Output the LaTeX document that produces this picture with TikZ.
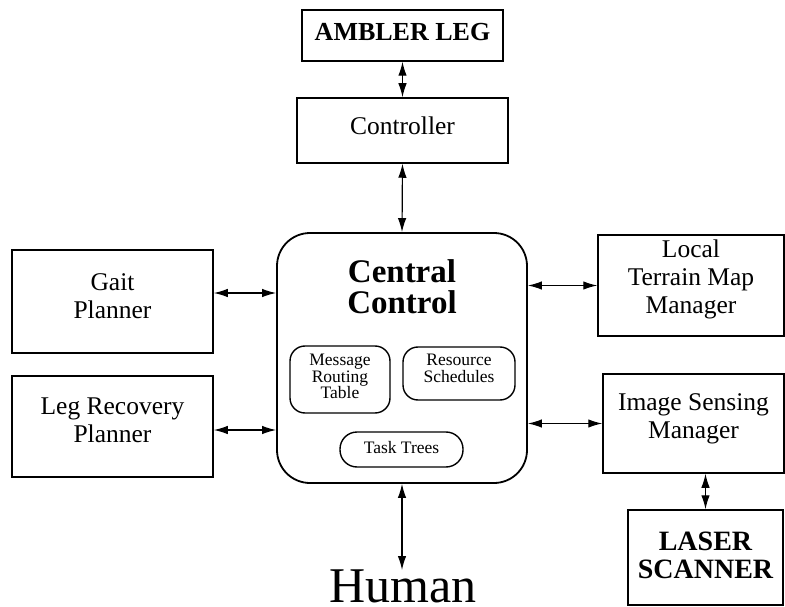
\documentclass[tikz,border=0pt]{standalone}
\usepackage{fontspec}
\setmainfont{Liberation Serif}
\usetikzlibrary{arrows.meta}
\begin{document}
\begin{tikzpicture}[x=1pt,y=-1pt,
  box/.style={draw, line width=1.5pt, inner sep=0pt},
  txt/.style={inner sep=0pt, align=center, font=\fontsize{25.5}{28}\selectfont},
  boldtxt/.style={txt, font=\bfseries\fontsize{26}{28}\selectfont},
  inner/.style={draw, line width=1.4pt, inner sep=0pt, align=center,
    font=\fontsize{17.5}{16.5}\selectfont},
  tip/.style={Latex[length=14pt,width=8.5pt]},
  arr/.style={{Latex[length=14pt,width=8.5pt]}-{Latex[length=14pt,width=8.5pt]}, line width=1.2pt}]
\useasboundingbox (0,0) rectangle (785,607);

% top chain
\node[box, minimum width=201pt, minimum height=51pt] (amb) at (402.5,35.5) {};
\node[boldtxt] (ambT) at ([yshift=3pt]amb.center) {AMBLER LEG};
\node[box, minimum width=211pt, minimum height=65pt] (ctrl) at (402.5,130.5) {};
\node[txt] (ctrlT) at ([yshift=5pt]ctrl.center) {Controller};

% central control block
\node[draw, line width=1.8pt, rounded corners=33pt, minimum width=250pt, minimum height=250pt, inner sep=0pt] (central) at (402,358) {};
\node[anchor=base, font=\bfseries\fontsize{33}{33}\selectfont, inner sep=0pt] (title1) at (402,282) {Central};
\node[anchor=base, font=\bfseries\fontsize{33}{33}\selectfont, inner sep=0pt] (title2) at (402,313) {Control};
\node[inner, rounded corners=15pt, minimum width=100pt, minimum height=67pt] (msg) at (340,379.5) {};
\node[inner, draw=none] (msgT) at ([yshift=3pt]msg.center) {Message\\Routing\\Table};
\node[inner, rounded corners=15pt, minimum width=112pt, minimum height=53pt] (res) at (459,373.5) {};
\node[inner, draw=none] (resT) at ([yshift=5pt]res.center) {Resource\\Schedules};
\node[inner, rounded corners=17pt, minimum width=123pt, minimum height=35pt] (task) at (401.5,449.5) {};
\node[inner, draw=none] (taskT) at ([yshift=2pt]task.center) {Task Trees};

% left planners
\node[box, minimum width=201pt, minimum height=103pt] (gait) at (112.5,301.5) {};
\node[txt] (gaitT) at ([yshift=5pt]gait.center) {Gait\\Planner};
\node[box, minimum width=201pt, minimum height=101pt] (leg) at (112.5,426.5) {};
\node[txt] (legT) at ([yshift=6pt]leg.center) {Leg Recovery\\Planner};

% right managers
\node[box, minimum width=186pt, minimum height=101pt] (local) at (691,285.5) {};
\node[txt] (localT) at ([yshift=6pt]local.center) {Local\\Terrain Map\\Manager};
\node[box, minimum width=181pt, minimum height=99pt] (ism) at (693.5,423.5) {};
\node[txt] (ismT) at ([yshift=5pt]ism.center) {Image Sensing\\Manager};
\node[box, minimum width=155pt, minimum height=95pt] (laser) at (705.5,557.5) {};
\node[boldtxt, font=\bfseries\fontsize{28}{28}\selectfont] (laserT) at ([yshift=2pt]laser.center) {LASER\\SCANNER};

% operator
\node[anchor=base, inner sep=0pt, font=\fontsize{50}{50}\selectfont] (human) at (403,602) {Human};
\coordinate (humantop) at (402,570);

% connectors
\draw[arr] (amb.south) -- (ctrl.north);
\draw[arr] (ctrl.south) -- (central.north);
\draw[arr] ([yshift=8.5pt]gait.east) -- ([yshift=8.5pt]gait.east -| central.west);
\draw[arr] ([yshift=-3.5pt]leg.east) -- ([yshift=-3.5pt]leg.east -| central.west);
\draw[arr] (local.west -| central.east) -- (local.west);
\draw[arr] (ism.west -| central.east) -- (ism.west);
\draw[arr] (laser.north |- ism.south) -- (laser.north);
\draw[arr] (central.south) -- (humantop);
\end{tikzpicture}
\end{document}
